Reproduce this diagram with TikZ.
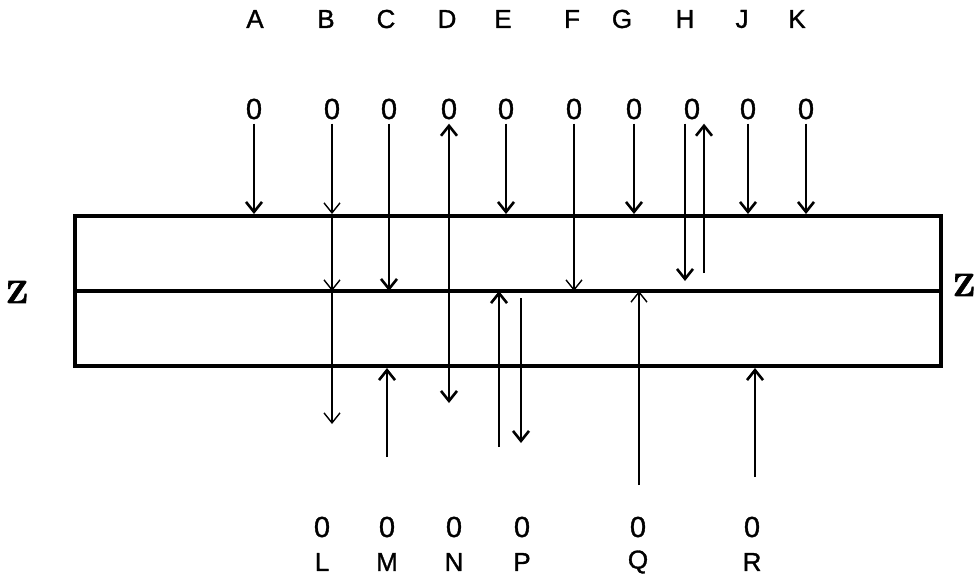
\documentclass[tikz,border=0pt]{standalone}
\usepackage{fontspec}
\newfontfamily\plotfont[FakeBold=1.2]{Liberation Sans}
\newfontfamily\sidefont{lmroman10-bold}[Extension=.otf, FakeBold=2]
\usepackage{tikz}
\usetikzlibrary{arrows.meta,positioning}
\tikzset{
    slab/.style={rectangle, draw, line width=2pt, inner sep=0pt,
        minimum width=433pt, minimum height=75pt},
    letter/.style={font=\plotfont\fontsize{13}{15}\selectfont, inner sep=2pt},
    digit/.style={font=\plotfont\fontsize{14.5}{16}\selectfont, inner sep=2pt},
    side/.style={font=\sidefont\fontsize{16}{18}\selectfont},
    arrow/.style={-{Straight Barb[length=5pt,width=8pt]}, line width=1.3pt},
    tarrow/.style={-{Straight Barb[length=5pt,width=8pt]}, line width=0.7pt},
    darrow/.style={{Straight Barb[length=5pt,width=8pt]}-{Straight Barb[length=5pt,width=8pt]}, line width=1.3pt}
}
\begin{document}
\begin{tikzpicture}[x=0.5pt,y=-0.5pt]
    \useasboundingbox (0,0) rectangle (977,575);
    % the two layers
    \node[slab] (box) at (508,291) {};
    \draw[line width=2pt] (box.west) -- (box.east);
    \node[side] (zl) at (17,292) {Z};
    \node[side] (zr) at (964,285) {Z};

    % sources above
    \foreach \x/\z/\n in {255/254/A, 326/332/B, 386/389/C, 447/449/D, 503/506/E,
                          572/574/F, 622/634/G, 685/692/H, 742/748/J, 797/806/K} {
        \node[letter] (\n) at (\x,19) {\n};
        \node[digit] (\n0) at (\z,109) {0};
    }
    % sinks below
    \foreach \x/\n in {322/L, 387/M, 454/N, 522/P, 638/Q, 752/R} {
        \node[digit] (\n0) at (\x,527) {0};
        \node[letter] (\n) at (\x,562) {\n};
    }

    \coordinate (Bend) at (332,424);
    \coordinate (Dend) at (449,403);
    \coordinate (Hdown) at (685,281);
    \coordinate (Hup) at (704,273);
    \coordinate (Mfoot) at (387,457);
    \coordinate (Efoot) at (499,447);
    \coordinate (Ptop) at (521,298);
    \coordinate (Pend) at (521,443);
    \coordinate (Qfoot) at (639,485);
    \coordinate (Rfoot) at (755,477);

    % downward flows from the top
    \draw[arrow] (A0) -- (A0 |- box.north);
    \draw[tarrow] (B0) -- (B0 |- box.north);
    \draw[tarrow] (B0 |- box.north) -- (B0 |- box.center);
    \draw[tarrow] (B0 |- box.center) -- (Bend);
    \draw[arrow] (C0) -- (C0 |- box.center);
    \draw[darrow] (D0) -- (Dend);
    \draw[arrow] (E0) -- (E0 |- box.north);
    \draw[tarrow] (F0) -- (F0 |- box.center);
    \draw[arrow] (G0) -- (G0 |- box.north);
    \draw[arrow] (H0.south -| Hdown) -- (Hdown);
    \draw[arrow] (Hup) -- (H0.south -| Hup);
    \draw[arrow] (J0) -- (J0 |- box.north);
    \draw[arrow] (K0) -- (K0 |- box.north);

    % flows from below
    \draw[arrow] (Mfoot) -- (Mfoot |- box.south);
    \draw[arrow] (Efoot) -- (Efoot |- box.center);
    \draw[arrow] (Ptop) -- (Pend);
    \draw[tarrow] (Qfoot) -- (Qfoot |- box.center);
    \draw[arrow] (Rfoot) -- (Rfoot |- box.south);
\end{tikzpicture}
\end{document}
